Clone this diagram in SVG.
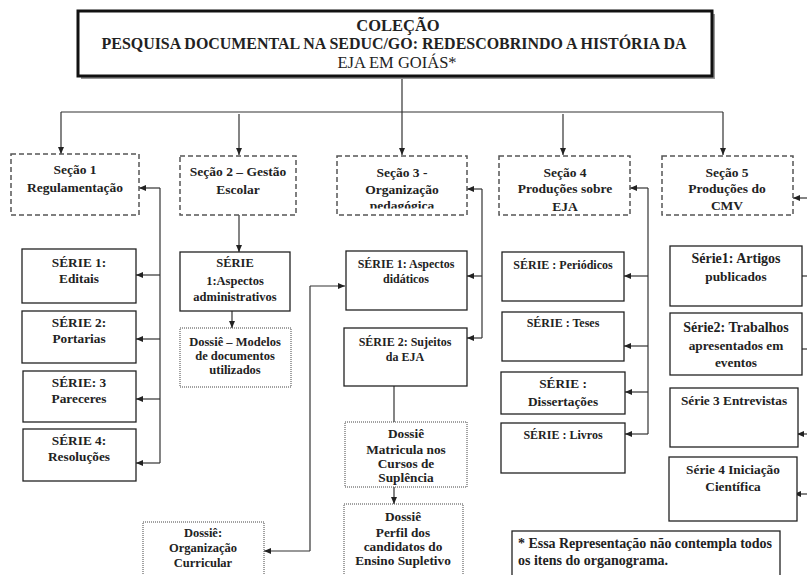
<svg xmlns="http://www.w3.org/2000/svg" width="807" height="575" viewBox="0 0 807 575">
<style>
text{font-family:"Liberation Serif","Times New Roman",serif;font-weight:bold;fill:#222;text-anchor:middle}
.t{font-size:16.5px}
.s{font-size:13.5px}
.r1{font-size:13.3px}
.r2{font-size:12.5px}
.r3{font-size:12px}
.r4{font-size:12px}
.r5{font-size:13.3px}
.d{font-size:13.3px}
.sec{fill:#fff;stroke:#555;stroke-width:1.5;stroke-dasharray:5 3}
.ser{fill:#fff;stroke:#222;stroke-width:1.3}
.dos{fill:#fff;stroke:#444;stroke-width:1;stroke-dasharray:1 1}
.c{fill:none;stroke:#333;stroke-width:1.2}
.ca{fill:none;stroke:#333;stroke-width:1.2;marker-end:url(#ah)}
</style>
<defs>
<marker id="ah" markerUnits="userSpaceOnUse" markerWidth="7" markerHeight="6" refX="7" refY="3" orient="auto">
<path d="M0,0 L7,3 L0,6 Z" fill="#222"/>
</marker>
<clipPath id="clip3"><rect x="337" y="156" width="130" height="52.5"/></clipPath>
</defs>
<rect width="807" height="575" fill="#fff"/>

<g id="connectors">
<line class="c" x1="402" y1="77" x2="402" y2="112"/>
<line class="c" x1="61" y1="112" x2="723" y2="112"/>
<line class="ca" x1="61" y1="112" x2="61" y2="154"/>
<line class="ca" x1="239" y1="114" x2="239" y2="155"/>
<line class="ca" x1="402" y1="112" x2="402" y2="155"/>
<line class="ca" x1="563" y1="114" x2="563" y2="155"/>
<line class="ca" x1="723" y1="112" x2="723" y2="155"/>
<!-- col 1 -->
<line class="c" x1="160" y1="188" x2="160" y2="463"/>
<line class="ca" x1="160" y1="188" x2="139" y2="188"/>
<line class="ca" x1="160" y1="275" x2="136" y2="275"/>
<line class="ca" x1="160" y1="339" x2="136" y2="339"/>
<line class="ca" x1="160" y1="399" x2="136" y2="399"/>
<line class="ca" x1="160" y1="463" x2="136" y2="463"/>
<!-- col 2 -->
<line class="ca" x1="239" y1="215" x2="239" y2="252"/>
<line class="ca" x1="232" y1="311" x2="232" y2="328"/>
<!-- col 3 -->
<line class="c" x1="482" y1="189" x2="482" y2="338"/>
<line class="ca" x1="482" y1="189" x2="467" y2="189"/>
<line class="ca" x1="482" y1="276" x2="467" y2="276"/>
<line class="ca" x1="482" y1="338" x2="467" y2="338"/>
<line class="c" x1="394" y1="386" x2="394" y2="422"/>
<line class="ca" x1="394" y1="487" x2="394" y2="504"/>
<line class="c" x1="310" y1="286" x2="310" y2="551"/>
<line class="ca" x1="310" y1="286" x2="345" y2="286"/>
<line class="ca" x1="310" y1="551" x2="264" y2="551"/>
<!-- col 4 -->
<line class="c" x1="648" y1="188" x2="648" y2="434"/>
<line class="ca" x1="648" y1="188" x2="630" y2="188"/>
<line class="ca" x1="648" y1="276" x2="624" y2="276"/>
<line class="ca" x1="648" y1="346" x2="624" y2="346"/>
<line class="ca" x1="648" y1="392" x2="625" y2="392"/>
<line class="ca" x1="648" y1="434" x2="625" y2="434"/>
<!-- col 5 -->
<line class="ca" x1="807" y1="198" x2="793" y2="198"/>
<line class="ca" x1="807" y1="276" x2="792" y2="276"/>
<line class="ca" x1="807" y1="349" x2="794" y2="349"/>
<line class="ca" x1="807" y1="434" x2="797" y2="434"/>
<line class="ca" x1="807" y1="494" x2="794" y2="494"/>
</g>

<g id="title">
<rect x="81" y="14" width="634" height="65" fill="#999"/>
<rect x="78" y="11" width="634" height="65" fill="#fff" stroke="#111" stroke-width="3"/>
<text class="t" x="398" y="31">COLEÇÃO</text>
<text class="t" x="394" y="49" textLength="585" lengthAdjust="spacingAndGlyphs">PESQUISA DOCUMENTAL NA SEDUC/GO: REDESCOBRINDO A HISTÓRIA DA</text>
<text class="t" x="397" y="68" style="font-weight:normal">EJA EM GOIÁS*</text>
</g>

<g id="secao1">
<rect class="sec" x="11" y="154" width="128" height="61"/>
<text class="s" x="75" y="174">Seção 1</text>
<text class="s" x="75" y="192">Regulamentação</text>
</g>
<g id="secao2">
<rect class="sec" x="180" y="156" width="116" height="59"/>
<text class="s" x="238" y="176">Seção 2 – Gestão</text>
<text class="s" x="238" y="194">Escolar</text>
</g>
<g id="secao3">
<rect class="sec" x="337" y="156" width="130" height="59"/>
<g clip-path="url(#clip3)">
<text class="s" x="402" y="177">Seção 3 -</text>
<text class="s" x="402" y="194">Organização</text>
<text class="s" x="402" y="210">pedagógica</text>
</g>
</g>
<g id="secao4">
<rect class="sec" x="499" y="156" width="131" height="59"/>
<text class="s" x="565" y="177">Seção 4</text>
<text class="s" x="565" y="193">Produções sobre</text>
<text class="s" x="565" y="211">EJA</text>
</g>
<g id="secao5">
<rect class="sec" x="662" y="156" width="131" height="59"/>
<text class="s" x="727" y="177">Seção 5</text>
<text class="s" x="727" y="193">Produções do</text>
<text class="s" x="727" y="210">CMV</text>
</g>

<g id="serie1-editais">
<rect class="ser" x="22" y="249" width="114" height="54"/>
<text class="r1" x="79" y="267">SÉRIE 1:</text>
<text class="r1" x="79" y="283">Editais</text>
</g>
<g id="serie2-portarias">
<rect class="ser" x="22" y="311" width="114" height="52"/>
<text class="r1" x="79" y="327">SÉRIE 2:</text>
<text class="r1" x="79" y="343">Portarias</text>
</g>
<g id="serie3-pareceres">
<rect class="ser" x="23" y="371" width="113" height="51"/>
<text class="r1" x="79" y="387">SÉRIE: 3</text>
<text class="r1" x="79" y="403">Pareceres</text>
</g>
<g id="serie4-resolucoes">
<rect class="ser" x="23" y="429" width="113" height="52"/>
<text class="r1" x="79" y="445">SÉRIE 4:</text>
<text class="r1" x="79" y="461">Resoluções</text>
</g>

<g id="serie1-administrativos">
<rect class="ser" x="180" y="252" width="110" height="59"/>
<text class="r2" x="235" y="267">SÉRIE</text>
<text class="r2" x="235" y="285">1:Aspectos</text>
<text class="r2" x="235" y="301">administrativos</text>
</g>
<g id="dossie-modelos">
<rect class="dos" x="180" y="328" width="111" height="59"/>
<text class="r2" x="235" y="346">Dossiê – Modelos</text>
<text class="r2" x="235" y="360">de documentos</text>
<text class="r2" x="235" y="374">utilizados</text>
</g>

<g id="serie1-didaticos">
<rect class="ser" x="346" y="251" width="121" height="59"/>
<text class="r3" x="406" y="268">SÉRIE 1: Aspectos</text>
<text class="r3" x="406" y="283">didáticos</text>
</g>
<g id="serie2-sujeitos">
<rect class="ser" x="344" y="328" width="123" height="58"/>
<text class="r3" x="405" y="346">SÉRIE 2: Sujeitos</text>
<text class="r3" x="405" y="361">da EJA</text>
</g>
<g id="dossie-matricula">
<rect class="dos" x="345" y="422" width="122" height="65"/>
<text class="d" x="406" y="438">Dossiê</text>
<text class="d" x="406" y="454">Matricula nos</text>
<text class="d" x="406" y="468">Cursos de</text>
<text class="d" x="406" y="482">Suplência</text>
</g>
<g id="dossie-perfil">
<rect class="dos" x="344" y="504" width="119" height="80"/>
<text class="d" x="403" y="521">Dossiê</text>
<text class="d" x="403" y="537">Perfil dos</text>
<text class="d" x="403" y="551">candidatos do</text>
<text class="d" x="403" y="565">Ensino Supletivo</text>
</g>
<g id="dossie-organizacao">
<rect class="dos" x="143" y="522" width="121" height="62"/>
<text class="r2" x="203" y="537">Dossiê:</text>
<text class="r2" x="203" y="552">Organização</text>
<text class="r2" x="203" y="567">Curricular</text>
</g>

<g id="serie-periodicos">
<rect class="ser" x="502" y="252" width="122" height="49"/>
<text class="r4" x="563" y="269">SÉRIE : Periódicos</text>
</g>
<g id="serie-teses">
<rect class="ser" x="502" y="312" width="122" height="49"/>
<text class="r4" x="563" y="327">SÉRIE : Teses</text>
</g>
<g id="serie-dissertacoes">
<rect class="ser" x="501" y="372" width="124" height="42"/>
<text class="d" x="563" y="388">SÉRIE :</text>
<text class="d" x="563" y="406">Dissertações</text>
</g>
<g id="serie-livros">
<rect class="ser" x="501" y="423" width="124" height="50"/>
<text class="r4" x="563" y="439">SÉRIE : Livros</text>
</g>

<g id="serie1-artigos">
<rect class="ser" x="670" y="246" width="132" height="60"/>
<text class="r5" x="736" y="263" style="font-size:14px">Série1: Artigos</text>
<text class="r5" x="736" y="281">publicados</text>
</g>
<g id="serie2-trabalhos">
<rect class="ser" x="670" y="313" width="132" height="62"/>
<text class="r5" x="736" y="332" style="font-size:14px">Série2: Trabalhos</text>
<text class="r5" x="736" y="350">apresentados em</text>
<text class="r5" x="736" y="367">eventos</text>
</g>
<g id="serie3-entrevistas">
<rect class="ser" x="670" y="388" width="128" height="59"/>
<text class="r5" x="734" y="405">Série 3 Entrevistas</text>
</g>
<g id="serie4-iniciacao">
<rect class="ser" x="669" y="457" width="128" height="64"/>
<text class="r5" x="733" y="474">Série 4 Iniciação</text>
<text class="r5" x="733" y="491">Científica</text>
</g>

<g id="nota">
<rect class="ser" x="512" y="531" width="268" height="55"/>
<text x="518" y="548" style="text-anchor:start;font-size:14px" textLength="254" lengthAdjust="spacing">* Essa Representação não contempla todos</text>
<text x="518" y="565" style="text-anchor:start;font-size:14px">os itens do organograma.</text>
</g>
</svg>
